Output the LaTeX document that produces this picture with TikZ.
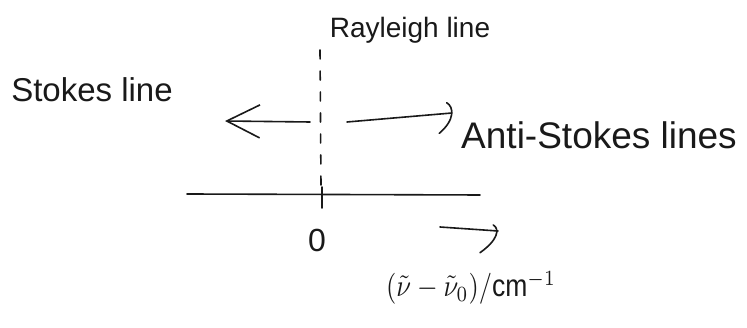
\documentclass[tikz,border=0pt]{standalone}
\usepackage{fontspec}
\setmainfont{Liberation Sans}
\usetikzlibrary{arrows.meta}
\tikzset{
  pen/.style={line width=1.6pt, draw=black!90, line cap=round, line join=round},
  lbl/.style={inner sep=0pt, text=black!90},
  bigbarb/.style={-{Straight Barb[length=33pt,width=33pt,line width=1.6pt]}}
}
\begin{document}
\begin{tikzpicture}[x=1pt,y=1pt]
\useasboundingbox (0,0) rectangle (747,328);
% labels
\node[lbl, font=\fontsize{28}{30}\selectfont] (rayleigh) at (410,298) {Rayleigh line};
\node[lbl, font=\fontsize{33}{35}\selectfont] (stokes) at (92,238) {Stokes line};
\node[lbl, font=\fontsize{37}{39}\selectfont] (anti) at (599,193) {Anti-Stokes lines};
\node[lbl, font=\fontsize{32}{34}\selectfont] (zero) at (317,88) {0};
\node[lbl] (unit) at (471,40) {\scalebox{2.65}[3.1]{$(\tilde{\nu}-\tilde{\nu}_0)/\mathrm{cm}^{-1}$}};
% coordinates
\coordinate (dtop) at (320,278);
\coordinate (dbot) at (321,142);
\coordinate (ticktop) at (322,141);
\coordinate (tickbot) at (322,120);
\coordinate (axl) at (187,134);
\coordinate (axr) at (480,133);
\coordinate (la0) at (310,206);
\coordinate (la1) at (225,207);
\coordinate (ra0) at (347,206);
\coordinate (ra1) at (452,215);
\coordinate (rh0) at (446.7,225.3);
\coordinate (rh1) at (439.3,194.7);
\coordinate (ba0) at (440,101);
\coordinate (ba1) at (498,97);
\coordinate (bh0) at (493.3,103);
\coordinate (bh1) at (480,75.3);
% Rayleigh dashed line
\draw[pen, dash pattern=on 9pt off 12pt] (dtop) -- (dbot);
\draw[pen] (ticktop) -- (tickbot);
% axis
\draw[pen] (axl) -- (axr);
% arrows
\draw[pen, bigbarb] (la0) -- (la1);
\draw[pen] (ra0) -- (ra1);
\draw[pen] (rh0) .. controls (454,221) and (455,208) .. (rh1);
\draw[pen] (ba0) -- (ba1);
\draw[pen] (bh0) .. controls (500,99) and (498,88) .. (bh1);
\end{tikzpicture}
\end{document}
